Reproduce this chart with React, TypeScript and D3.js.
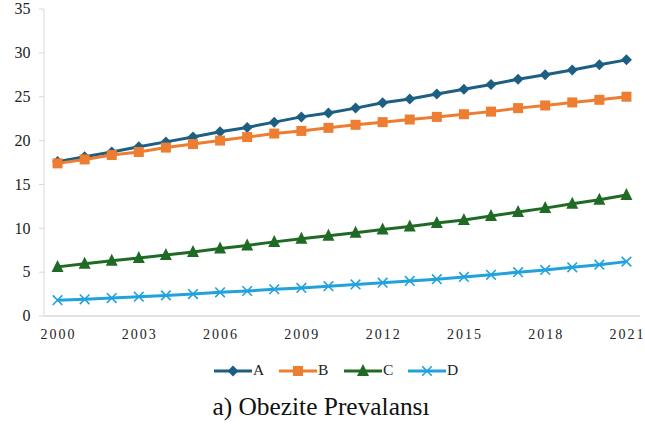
import React from "react";
import * as d3 from "d3";

const years = d3.range(2000, 2022).map(String);
const tickYears = ["2000", "2003", "2006", "2009", "2012", "2015", "2018", "2021"];
const yTicks = [0, 5, 10, 15, 20, 25, 30, 35];

const seriesA = [17.6, 18.15, 18.7, 19.3, 19.85, 20.4, 21.0, 21.5, 22.1, 22.7, 23.15, 23.7, 24.3, 24.75, 25.3, 25.85, 26.4, 27.0, 27.5, 28.05, 28.65, 29.2];
const seriesB = [17.4, 17.85, 18.35, 18.7, 19.2, 19.6, 20.0, 20.4, 20.8, 21.1, 21.45, 21.8, 22.1, 22.4, 22.7, 23.0, 23.3, 23.7, 24.0, 24.35, 24.65, 25.0];
const seriesC = [5.6, 5.95, 6.3, 6.6, 6.95, 7.3, 7.7, 8.05, 8.45, 8.8, 9.15, 9.5, 9.85, 10.2, 10.6, 10.95, 11.4, 11.85, 12.3, 12.8, 13.25, 13.8];
const seriesD = [1.8, 1.9, 2.05, 2.2, 2.35, 2.5, 2.7, 2.85, 3.05, 3.2, 3.4, 3.6, 3.8, 4.0, 4.2, 4.45, 4.7, 5.0, 5.25, 5.55, 5.85, 6.2];

const seriesNames = ["A", "B", "C", "D"];
const seriesColors = ["#1d5f82", "#ed7d31", "#1f6b25", "#22a2dd"];
const seriesMarkers = ["diamond", "square", "triangle", "x"];
const seriesData = [seriesA, seriesB, seriesC, seriesD];

const FONT = "Liberation Serif, Times New Roman, serif";

function Marker({ type, x, y, color }: { type: string; x: number; y: number; color: string }) {
  if (type === "diamond") {
    const s = 5.5;
    return <path d={`M${x},${y - s}L${x + s},${y}L${x},${y + s}L${x - s},${y}Z`} fill={color} />;
  }
  if (type === "square") {
    const s = 5;
    return <rect x={x - s} y={y - s} width={2 * s} height={2 * s} fill={color} />;
  }
  if (type === "triangle") {
    const s = 6;
    return <path d={`M${x},${y - s - 1}L${x + s},${y + s - 1}L${x - s},${y + s - 1}Z`} fill={color} />;
  }
  const s = 4.8;
  return (
    <path
      d={`M${x - s},${y - s}L${x + s},${y + s}M${x - s},${y + s}L${x + s},${y - s}`}
      stroke={color}
      strokeWidth={1.6}
      fill="none"
    />
  );
}

export default function App() {
  const W = 645;
  const H = 425;
  const left = 44;
  const right = 640;
  const top = 9;
  const bottom = 316;

  const x = d3.scalePoint<string>().domain(years).range([left, right]).padding(0.5);
  const y = d3.scaleLinear().domain([0, 35]).range([bottom, top]);
  const line = d3
    .line<number>()
    .x((_, i) => x(years[i]) as number)
    .y((d) => y(d));

  const legendX = [214, 279, 344, 408];
  const legendY = 371;

  return (
    <svg width={W} height={H} style={{ position: "absolute", left: 0, top: 0, background: "#fff", fontFamily: FONT }}>
      <line x1={left} x2={left} y1={top} y2={bottom} stroke="#d9d9d9" strokeWidth={1} />
      <line x1={left} x2={right} y1={bottom} y2={bottom} stroke="#d9d9d9" strokeWidth={1.5} />
      {yTicks.map((t) => (
        <g key={t}>
          <line x1={left - 5} x2={left} y1={y(t)} y2={y(t)} stroke="#d9d9d9" />
          <text x={30.5} y={y(t)} dy="0.33em" textAnchor="end" style={{ fontFamily: FONT }} fontSize={16} fill="#222">
            {t}
          </text>
        </g>
      ))}
      {tickYears.map((t) => (
        <text
          key={t}
          x={(x(t) as number) + 1}
          y={339}
          textAnchor="middle"
          style={{ fontFamily: FONT }}
          fontSize={14}
          letterSpacing={2}
          fill="#222"
        >
          {t}
        </text>
      ))}
      {seriesData.map((data, si) => (
        <g key={si}>
          <path d={line(data) || ""} fill="none" stroke={seriesColors[si]} strokeWidth={3} />
          {data.map((v, i) => (
            <Marker key={i} type={seriesMarkers[si]} x={x(years[i]) as number} y={y(v)} color={seriesColors[si]} />
          ))}
        </g>
      ))}
      {seriesNames.map((n, i) => (
        <g key={n}>
          <line x1={legendX[i]} x2={legendX[i] + 38} y1={legendY} y2={legendY} stroke={seriesColors[i]} strokeWidth={3} />
          <Marker type={seriesMarkers[i]} x={legendX[i] + 19} y={legendY} color={seriesColors[i]} />
          <text x={legendX[i] + 39} y={375} style={{ fontFamily: FONT }} fontSize={15.5} fill="#222">
            {n}
          </text>
        </g>
      ))}
      <text x={321} y={415} textAnchor="middle" style={{ fontFamily: FONT }} fontSize={25.4} fill="#111">
        a) Obezite Prevalansı
      </text>
    </svg>
  );
}
